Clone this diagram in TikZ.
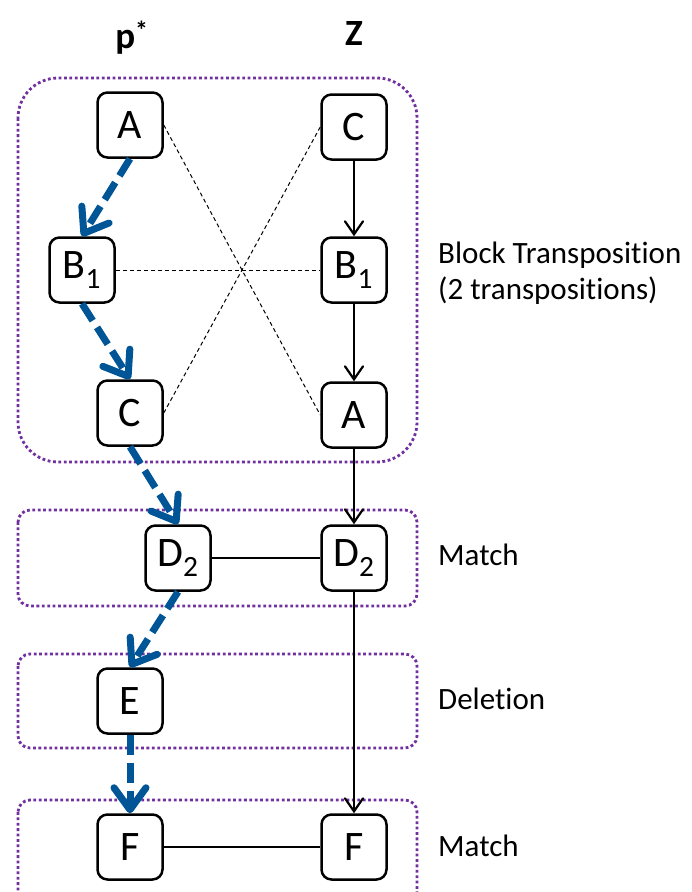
\documentclass[tikz,border=0pt]{standalone}
\usepackage{fontspec}
\setmainfont{Carlito}[Ligatures={NoCommon,NoRequired,NoContextual}]
\usetikzlibrary{arrows.meta}
\definecolor{seqblue}{RGB}{0,85,150}
\definecolor{grpurple}{RGB}{112,48,160}
\begin{document}
\begin{tikzpicture}[x=1pt,y=-1pt,
  elem/.style={draw,line width=2.5pt,rounded corners=10pt,minimum width=65pt,
    minimum height=65pt,inner sep=0pt,font=\fontsize{42}{48}\selectfont},
  group/.style={draw=grpurple,line width=2.8pt,line cap=butt,dash pattern=on 2.8pt off 2.6pt},
  head/.style={font=\fontsize{37}{40}\selectfont\bfseries},
  sidelabel/.style={anchor=base west,inner sep=0pt,font=\fontsize{31}{36}\selectfont},
  pathedge/.style={seqblue,line width=7pt,dash pattern=on 20pt off 8pt,
    -{Straight Barb[length=22pt 0,width=32pt 0,line cap=round,line join=round]}},
  zedge/.style={line width=2.2pt,-{Straight Barb[length=13pt 0,width=18pt 0,line cap=round]}},
  corresp/.style={line width=1pt,dash pattern=on 4pt off 3pt},
  matchline/.style={line width=1.2pt}
]
\useasboundingbox (0,0) rectangle (692,892);
\clip (0,0) rectangle (692,892);

% grouping frames
\draw[group,rounded corners=40pt] (18,78) rectangle (417,462);
\draw[group,rounded corners=12pt] (18,510) rectangle (417,606);
\draw[group,rounded corners=12pt] (18,654) rectangle (417,748);
\draw[group,rounded corners=12pt] (18,800) rectangle (417,910);

% column headings
\node[head] (hp) at (132,38) {p\textsuperscript{*}};
\node[head] (hz) at (354,34) {Z};

% elements of p*
\node[elem] (pA) at (130,125) {A};
\node[elem] (pB) at (82,270) {B\textsubscript{1}};
\node[elem] (pC) at (130,413) {C};
\node[elem] (pD) at (178,558) {D\textsubscript{2}};
\node[elem] (pE) at (130,701) {E};
\node[elem] (pF) at (130,847) {F};

% elements of Z
\node[elem] (zC) at (354,127) {C};
\node[elem] (zB) at (354,270) {B\textsubscript{1}};
\node[elem] (zA) at (354,415) {A};
\node[elem] (zD) at (354,558) {D\textsubscript{2}};
\node[elem] (zF) at (354,847) {F};

% correspondences
\draw[corresp] (pA.east) -- (zA.west);
\draw[corresp] (zC.west) -- (pC.east);
\draw[corresp] (pB.east) -- (zB.west);
\draw[matchline] (pD.east) -- (zD.west);
\draw[matchline] (pF.east) -- (zF.west);

% order in Z
\draw[zedge] (zC) -- (zB);
\draw[zedge] (zB) -- (zA);
\draw[zedge] (zA) -- (zD);
\draw[zedge] (zD) -- (zF);

% order in p*
\draw[pathedge] (pA.south) -- (pB.north);
\draw[pathedge] (pB.south) -- (pC.north);
\draw[pathedge] (pC.south) -- (pD.north);
\draw[pathedge] (pD.south) -- (pE.north);
\draw[pathedge] (pE.south) -- (pF.north);

% operation labels
\node[sidelabel] (l1) at (438,263) {Block Transposition};
\node[sidelabel] (l1b) at (438,299) {(2 transpositions)};
\node[sidelabel] (l2) at (438,565) {Match};
\node[sidelabel] (l3) at (438,709) {Deletion};
\node[sidelabel] (l4) at (438,856) {Match};
\end{tikzpicture}
\end{document}
